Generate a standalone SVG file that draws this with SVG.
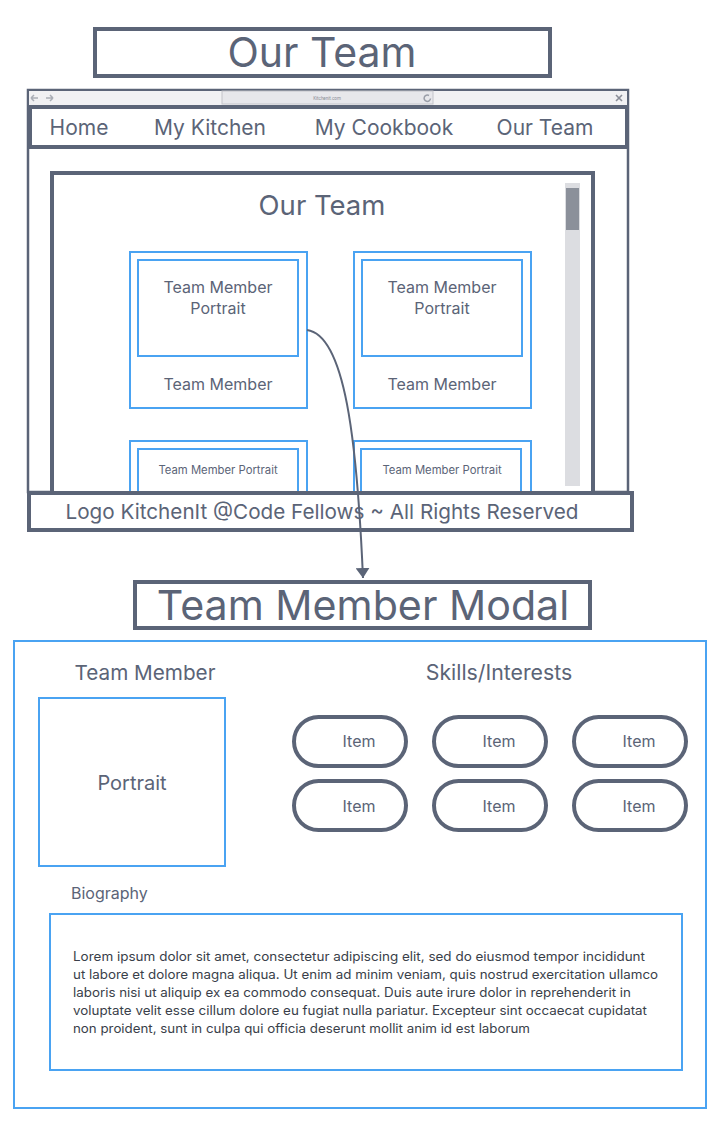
<svg xmlns="http://www.w3.org/2000/svg" width="719" height="1123" viewBox="0 0 719 1123">
<style>
.dk{fill:#fff;stroke:#5b6477;stroke-width:4}
.bl{fill:#fff;stroke:#4aa3f2;stroke-width:2}
.t{font-family:Inter,"Liberation Sans",sans-serif;fill:#5b6477}
.c{text-anchor:middle}
.pill{fill:#fff;stroke:#5b6477;stroke-width:4}
.lorem{font-family:Inter,"Liberation Sans",sans-serif;fill:#3a3f4a;font-size:12.5px}
</style>
<defs>
<marker id="arr" markerWidth="10" markerHeight="14" refX="10" refY="7" orient="auto" markerUnits="userSpaceOnUse" viewBox="0 0 10 14">
<path d="M0,0 L10,7 L0,14 Z" fill="#5b6477"/>
</marker>
</defs>
<rect width="719" height="1123" fill="#fff"/>

<g id="title-our-team">
<rect class="dk" x="95" y="29" width="455" height="47"/>
<text class="t c" x="322" y="67" font-size="41">Our Team</text>
</g>

<g id="browser">
<rect x="28" y="90" width="600" height="402" fill="#fff" stroke="#5b6477" stroke-width="2.5"/>
<rect x="29" y="91" width="598" height="14" fill="#f1f1f3"/>
<rect x="222" y="91" width="211" height="13" fill="#e7e7eb" stroke="#c3c4ca" stroke-width="1"/>
<text x="327" y="99.5" font-family="Roboto,sans-serif" font-size="4.5" fill="#8a8e98" text-anchor="middle">Kitchenit.com</text>
<path d="M429,95.5 a3.2,3.2 0 1 0 1.5,3" fill="none" stroke="#9a9ea8" stroke-width="1.5"/>
<path d="M31,98 h7 M31,98 l3,-3 M31,98 l3,3" fill="none" stroke="#aaaeb6" stroke-width="1.5"/>
<path d="M53,98 h-7 M53,98 l-3,-3 M53,98 l-3,3" fill="none" stroke="#aaaeb6" stroke-width="1.5"/>
<path d="M616,95 l6,6 M622,95 l-6,6" stroke="#8a8e98" stroke-width="1.6"/>
</g>

<g id="nav">
<rect class="dk" x="30" y="107" width="597" height="40"/>
<text class="t c" x="79" y="135" font-size="21">Home</text>
<text class="t c" x="210" y="135" font-size="21">My Kitchen</text>
<text class="t c" x="384" y="135" font-size="21">My Cookbook</text>
<text class="t c" x="545" y="135" font-size="21">Our Team</text>
</g>

<g id="content">
<rect class="dk" x="52" y="173" width="541" height="325"/>
<rect x="565" y="183" width="15" height="303" fill="#dcdde1"/>
<rect x="566" y="188" width="13" height="42" fill="#8b909a"/>
<text class="t c" x="322" y="215" font-size="27.5">Our Team</text>
</g>

<g id="card1">
<rect class="bl" x="130" y="252" width="177" height="156"/>
<rect class="bl" x="138" y="260" width="160" height="96"/>
<text class="t c" x="218" y="293" font-size="16">Team Member</text>
<text class="t c" x="218" y="314" font-size="16">Portrait</text>
<text class="t c" x="218" y="390" font-size="16">Team Member</text>
</g>
<g id="card2">
<rect class="bl" x="354" y="252" width="177" height="156"/>
<rect class="bl" x="362" y="260" width="160" height="96"/>
<text class="t c" x="442" y="293" font-size="16">Team Member</text>
<text class="t c" x="442" y="314" font-size="16">Portrait</text>
<text class="t c" x="442" y="390" font-size="16">Team Member</text>
</g>
<g id="card3">
<rect class="bl" x="130" y="441" width="177" height="60"/>
<rect class="bl" x="138" y="449" width="160" height="52"/>
<text class="t c" x="218" y="474" font-size="11.3">Team Member Portrait</text>
</g>
<g id="card4">
<rect class="bl" x="354" y="441" width="177" height="60"/>
<rect class="bl" x="361" y="449" width="160" height="52"/>
<text class="t c" x="442" y="474" font-size="11.3">Team Member Portrait</text>
</g>

<g id="footer">
<rect class="dk" x="29" y="493" width="603" height="37"/>
<text class="t c" x="322" y="519" font-size="20.7">Logo KitchenIt @Code Fellows ~ All Rights Reserved</text>
</g>

<g id="connectors">
<path d="M307,330 C345,335 357,440 363,578" fill="none" stroke="#5b6477" stroke-width="2" marker-end="url(#arr)"/>
</g>

<g id="title-modal">
<rect class="dk" x="135" y="582" width="455" height="46"/>
<text class="t c" x="363" y="620" font-size="41.2">Team Member Modal</text>
</g>

<g id="modal">
<rect class="bl" x="14" y="641" width="692" height="467"/>
<text class="t c" x="145" y="680" font-size="20.7">Team Member</text>
<text class="t c" x="499" y="680" font-size="21.3">Skills/Interests</text>
<rect class="bl" x="39" y="698" width="186" height="168"/>
<text class="t c" x="132" y="790" font-size="20">Portrait</text>
</g>

<g id="skills">
<rect class="pill" x="294" y="717" width="112" height="49" rx="24.5"/>
<rect class="pill" x="434" y="717" width="112" height="49" rx="24.5"/>
<rect class="pill" x="574" y="717" width="112" height="49" rx="24.5"/>
<rect class="pill" x="294" y="781" width="112" height="49" rx="24.5"/>
<rect class="pill" x="434" y="781" width="112" height="49" rx="24.5"/>
<rect class="pill" x="574" y="781" width="112" height="49" rx="24.5"/>
<text class="t c" x="359" y="747" font-size="16">Item</text>
<text class="t c" x="499" y="747" font-size="16">Item</text>
<text class="t c" x="639" y="747" font-size="16">Item</text>
<text class="t c" x="359" y="812" font-size="16">Item</text>
<text class="t c" x="499" y="812" font-size="16">Item</text>
<text class="t c" x="639" y="812" font-size="16">Item</text>
</g>

<g id="biography">
<text class="t" x="71" y="899" font-size="16">Biography</text>
<rect class="bl" x="50" y="914" width="632" height="156"/>
<text class="lorem" x="73" y="961" textLength="572" lengthAdjust="spacingAndGlyphs">Lorem ipsum dolor sit amet, consectetur adipiscing elit, sed do eiusmod tempor incididunt</text>
<text class="lorem" x="73" y="979" textLength="585" lengthAdjust="spacingAndGlyphs">ut labore et dolore magna aliqua. Ut enim ad minim veniam, quis nostrud exercitation ullamco</text>
<text class="lorem" x="73" y="997" textLength="558" lengthAdjust="spacingAndGlyphs">laboris nisi ut aliquip ex ea commodo consequat. Duis aute irure dolor in reprehenderit in</text>
<text class="lorem" x="73" y="1015" textLength="574" lengthAdjust="spacingAndGlyphs">voluptate velit esse cillum dolore eu fugiat nulla pariatur. Excepteur sint occaecat cupidatat</text>
<text class="lorem" x="73" y="1033" textLength="457" lengthAdjust="spacingAndGlyphs">non proident, sunt in culpa qui officia deserunt mollit anim id est laborum</text>
</g>
</svg>
